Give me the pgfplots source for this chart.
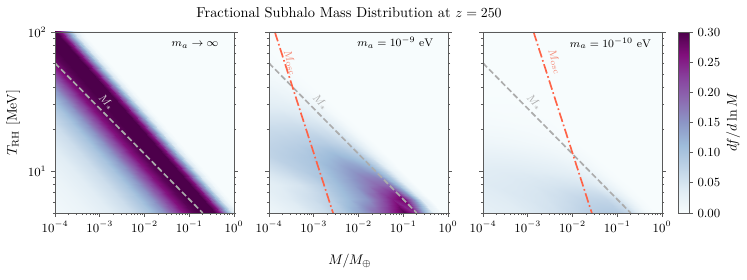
\documentclass[border=0pt]{standalone}
\usepackage{pgfplots}
\pgfplotsset{compat=1.18}
\usepackage{pgfplotstable}

\definecolor{spine}{RGB}{90,90,90}
\definecolor{mstar}{RGB}{172,172,172}
\definecolor{mstarlight}{RGB}{225,225,225}
\definecolor{mosc}{RGB}{255,99,71}
\definecolor{mosclab}{RGB}{245,135,115}
\definecolor{bg}{RGB}{247,252,253}

\pgfplotsset{
  colormap={bupu}{rgb255=(247,252,253) rgb255=(224,236,244) rgb255=(191,211,230) rgb255=(158,188,218) rgb255=(140,150,198) rgb255=(140,107,177) rgb255=(136,65,157) rgb255=(129,15,124) rgb255=(77,0,75)},
  panel/.style={
    scale only axis, width=128.88bp, height=130.32bp, anchor=south west,
    xmin=-4, xmax=0, ymin=0.69897, ymax=2,
    colormap name=bupu, point meta min=0, point meta max=0.3,
    axis background/.style={fill=bg},
    axis on top,
    xtick={-4,-3,-2,-1,0},
    xticklabels={$10^{-4}$,$10^{-3}$,$10^{-2}$,$10^{-1}$,$10^{0}$},
    ytick={1,2}, yticklabels={$10^{1}$,$10^{2}$},
    minor xtick={-3.699,-3.523,-3.398,-3.301,-3.222,-3.155,-3.097,-3.046,-2.699,-2.523,-2.398,-2.301,-2.222,-2.155,-2.097,-2.046,-1.699,-1.523,-1.398,-1.301,-1.222,-1.155,-1.097,-1.046,-0.699,-0.523,-0.398,-0.301,-0.222,-0.155,-0.097,-0.046},
    minor ytick={0.699,0.778,0.845,0.903,0.954,1.301,1.477,1.602,1.699,1.778,1.845,1.903,1.954},
    xtick pos=left, ytick pos=both, yticklabel pos=left, tick align=outside,
    major tick length=2.6bp, minor tick length=1.5bp,
    axis line style={spine, line width=0.6bp},
    tick style={spine, line width=0.5bp},
    minor tick style={spine, line width=0.4bp},
    tick label style={font=\small},
  },
  mstarline/.style={mstar, line width=1.2bp, dash pattern=on 4.2bp off 2bp},
  moscline/.style={mosc, line width=1.2bp, dash pattern=on 7bp off 2bp on 1.2bp off 2bp},
}

\pgfplotstableread{
x y c
-5.749 0.69 0
-4.249 0.69 0.005
-3.749 0.69 0.012
-3.249 0.69 0.02
-2.749 0.69 0.035
-2.249 0.69 0.06
-1.849 0.69 0.1
-1.549 0.69 0.15
-1.299 0.69 0.21
-1.099 0.69 0.26
-0.899 0.69 0.29
-0.749 0.69 0.3
-0.399 0.69 0.3
-0.299 0.69 0.26
-0.199 0.69 0.19
-0.099 0.69 0.11
0.001 0.69 0.045
0.101 0.69 0.01
0.201 0.69 0
5.251 0.69 0
-9.339 2.01 0
-7.839 2.01 0.005
-7.339 2.01 0.012
-6.839 2.01 0.02
-6.339 2.01 0.035
-5.839 2.01 0.06
-5.439 2.01 0.1
-5.139 2.01 0.15
-4.889 2.01 0.21
-4.689 2.01 0.26
-4.489 2.01 0.29
-4.339 2.01 0.3
-3.989 2.01 0.3
-3.889 2.01 0.26
-3.789 2.01 0.19
-3.689 2.01 0.11
-3.589 2.01 0.045
-3.489 2.01 0.01
-3.389 2.01 0
1.661 2.01 0
}\lefttab

\pgfplotstableread{
x y a b
-5.699 0.69 0 0.01
-4.199 0.69 0.01 0.025
-3.699 0.69 0.02 0.03
-3.199 0.69 0.035 0.035
-2.699 0.69 0.06 0.045
-2.299 0.69 0.09 0.055
-1.899 0.69 0.14 0.07
-1.499 0.69 0.2 0.085
-1.199 0.69 0.25 0.09
-0.949 0.69 0.3 0.09
-0.699 0.69 0.24 0.07
-0.499 0.69 0.12 0.035
-0.299 0.69 0.025 0.008
-0.099 0.69 0 0
4.801 0.69 0 0
-6.009 0.8 0 0.01
-4.509 0.8 0.015 0.028
-4.009 0.8 0.025 0.033
-3.509 0.8 0.04 0.038
-3.009 0.8 0.06 0.045
-2.609 0.8 0.08 0.05
-2.209 0.8 0.115 0.06
-1.809 0.8 0.15 0.07
-1.509 0.8 0.2 0.072
-1.259 0.8 0.25 0.07
-1.009 0.8 0.28 0.055
-0.809 0.8 0.17 0.025
-0.609 0.8 0.04 0.006
-0.409 0.8 0 0
4.491 0.8 0 0
-6.315 0.9 0 0.01
-4.815 0.9 0.015 0.03
-4.315 0.9 0.025 0.035
-3.815 0.9 0.035 0.04
-3.315 0.9 0.05 0.042
-2.915 0.9 0.075 0.045
-2.515 0.9 0.105 0.048
-2.115 0.9 0.14 0.05
-1.815 0.9 0.17 0.048
-1.565 0.9 0.19 0.042
-1.315 0.9 0.19 0.03
-1.115 0.9 0.11 0.015
-0.915 0.9 0.025 0.004
-0.715 0.9 0 0
4.185 0.9 0 0
-6.622 1.0 0 0.008
-5.122 1.0 0.02 0.028
-4.622 1.0 0.03 0.033
-4.122 1.0 0.045 0.036
-3.622 1.0 0.065 0.038
-3.222 1.0 0.085 0.038
-2.822 1.0 0.1 0.036
-2.422 1.0 0.13 0.033
-2.122 1.0 0.15 0.03
-1.872 1.0 0.15 0.025
-1.622 1.0 0.13 0.018
-1.422 1.0 0.08 0.008
-1.222 1.0 0.02 0.002
-1.022 1.0 0 0
3.878 1.0 0 0
-6.929 1.1 0 0.005
-5.429 1.1 0.03 0.02
-4.929 1.1 0.04 0.024
-4.429 1.1 0.055 0.026
-3.929 1.1 0.075 0.027
-3.529 1.1 0.085 0.026
-3.129 1.1 0.095 0.024
-2.729 1.1 0.11 0.021
-2.429 1.1 0.12 0.018
-2.179 1.1 0.11 0.014
-1.929 1.1 0.09 0.01
-1.729 1.1 0.05 0.005
-1.529 1.1 0.015 0.001
-1.329 1.1 0 0
3.571 1.1 0 0
-7.236 1.2 0.005 0.003
-5.736 1.2 0.03 0.012
-5.236 1.2 0.04 0.015
-4.736 1.2 0.055 0.016
-4.236 1.2 0.07 0.016
-3.836 1.2 0.075 0.015
-3.436 1.2 0.08 0.013
-3.036 1.2 0.085 0.011
-2.736 1.2 0.085 0.009
-2.486 1.2 0.075 0.007
-2.236 1.2 0.06 0.005
-2.036 1.2 0.035 0.002
-1.836 1.2 0.01 0
-1.636 1.2 0 0
3.264 1.2 0 0
-7.696 1.35 0.005 0.001
-6.196 1.35 0.025 0.005
-5.696 1.35 0.03 0.006
-5.196 1.35 0.04 0.006
-4.696 1.35 0.05 0.006
-4.296 1.35 0.055 0.005
-3.896 1.35 0.055 0.005
-3.496 1.35 0.055 0.004
-3.196 1.35 0.05 0.003
-2.946 1.35 0.045 0.003
-2.696 1.35 0.035 0.002
-2.496 1.35 0.02 0.001
-2.296 1.35 0.005 0
-2.096 1.35 0 0
2.804 1.35 0 0
-8.156 1.5 0 0
-6.656 1.5 0.01 0.002
-6.156 1.5 0.015 0.002
-5.656 1.5 0.02 0.002
-5.156 1.5 0.025 0.002
-4.756 1.5 0.03 0.002
-4.356 1.5 0.03 0.001
-3.956 1.5 0.03 0.001
-3.656 1.5 0.028 0.001
-3.406 1.5 0.022 0.001
-3.156 1.5 0.016 0
-2.956 1.5 0.008 0
-2.756 1.5 0.002 0
-2.556 1.5 0 0
2.344 1.5 0 0
-8.769 1.7 0 0
-7.269 1.7 0.004 0
-6.769 1.7 0.006 0
-6.269 1.7 0.008 0
-5.769 1.7 0.008 0
-5.369 1.7 0.008 0
-4.969 1.7 0.008 0
-4.569 1.7 0.008 0
-4.269 1.7 0.008 0
-4.019 1.7 0.007 0
-3.769 1.7 0.006 0
-3.569 1.7 0.003 0
-3.369 1.7 0.001 0
-3.169 1.7 0 0
1.731 1.7 0 0
-9.689 2.01 0 0
-8.189 2.01 0 0
-7.689 2.01 0 0
-7.189 2.01 0 0
-6.689 2.01 0 0
-6.289 2.01 0 0
-5.889 2.01 0 0
-5.489 2.01 0 0
-5.189 2.01 0 0
-4.939 2.01 0 0
-4.689 2.01 0 0
-4.489 2.01 0 0
-4.289 2.01 0 0
-4.089 2.01 0 0
0.811 2.01 0 0
}\meshtab

\begin{document}
\begin{tikzpicture}
\useasboundingbox (0,0) rectangle (537.84bp,200.88bp);

% left panel
\begin{axis}[panel, at={(39.6bp,47.52bp)}]
\addplot[surf, shader=interp, mesh/rows=2, mesh/cols=20, point meta=explicit] table[x=x, y=y, meta=c] {\lefttab};
\addplot[mstarline] coordinates {(-4,1.776) (-0.699,0.699)};
\node[rotate=-45.4, font=\footnotesize, text=mstarlight] at (axis cs:-2.85,1.495) {$M_*$};
\node[anchor=base east, font=\footnotesize] at (rel axis cs:0.94,0.919) {$m_a\to\infty$};
\end{axis}

% middle panel
\begin{axis}[panel, at={(193.68bp,47.52bp)}, yticklabels={}]
\addplot[surf, shader=interp, mesh/rows=10, mesh/cols=15, point meta=explicit] table[x=x, y=y, meta=a] {\meshtab};
\addplot[mstarline] coordinates {(-4,1.776) (-0.699,0.699)};
\addplot[moscline] coordinates {(-3.87,2) (-2.569,0.699)};
\node[rotate=-45.4, font=\footnotesize, text=mstar] at (axis cs:-2.85,1.495) {$M_*$};
\node[rotate=-72.2, font=\footnotesize, text=mosclab] at (axis cs:-3.52,1.78) {$M_{\rm osc}$};
\node[anchor=base east, font=\footnotesize] at (rel axis cs:0.946,0.919) {$m_a = 10^{-9}\ \mathrm{eV}$};
\end{axis}

% right panel
\begin{axis}[panel, at={(347.76bp,47.52bp)}, yticklabels={},
  colorbar,
  colorbar style={
    at={(parent axis.north east)}, anchor=north west, xshift=3.02bp,
    width=7.92bp,
    ytick={0,0.05,0.1,0.15,0.2,0.25,0.3},
    scaled y ticks=false,
    yticklabel style={/pgf/number format/.cd, fixed, fixed zerofill, precision=2},
    ytick pos=right, yticklabel pos=right,
    tick align=outside, major tick length=2.6bp,
    axis line style={spine, line width=0.6bp},
    tick style={spine, line width=0.5bp},
    tick label style={font=\small},
  }]
\addplot[surf, shader=interp, mesh/rows=10, mesh/cols=15, point meta=explicit] table[x=x, y=y, meta=b] {\meshtab};
\addplot[mstarline] coordinates {(-4,1.776) (-0.699,0.699)};
\addplot[moscline] coordinates {(-2.87,2) (-1.569,0.699)};
\node[rotate=-45.4, font=\footnotesize, text=mstar] at (axis cs:-2.85,1.495) {$M_*$};
\node[rotate=-72.2, font=\footnotesize, text=mosclab] at (axis cs:-2.39,1.786) {$M_{\rm osc}$};
\node[anchor=base east, font=\footnotesize] at (rel axis cs:0.966,0.916) {$m_a = 10^{-10}\ \mathrm{eV}$};
\end{axis}

\node[anchor=base, font=\fontsize{10.4}{12}\selectfont] at (251.3bp,188.3bp) {Fractional Subhalo Mass Distribution at $z = 250$};
\node[anchor=base] at (252bp,10.8bp) {$M/M_\oplus$};
\node[rotate=90] at (9.4bp,112.7bp) {$T_{\rm RH}$ [MeV]};
\node[rotate=90] at (527.8bp,113bp) {$df/d\ln M$};
\end{tikzpicture}
\end{document}
